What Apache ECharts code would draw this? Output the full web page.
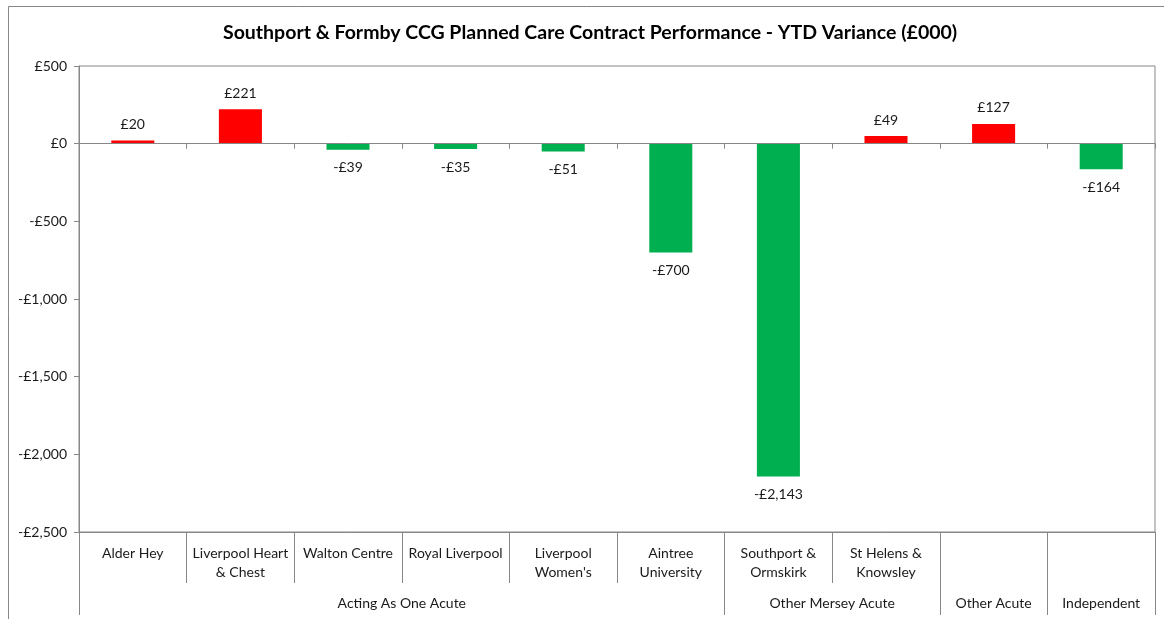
<!DOCTYPE html>
<html>
<head>
<meta charset="utf-8">
<script src="https://cdn.jsdelivr.net/npm/echarts@6/dist/echarts.min.js"></script>
<style>
  html, body { margin: 0; padding: 0; background: #fff; }
  #chart { width: 1164px; height: 619px; }
</style>
</head>
<body>
<div id="chart"></div>
<script>
// providers (first level of the axis), '\n' where the label wraps
const providers = [
  'Alder Hey', 'Liverpool Heart\n& Chest', 'Walton Centre', 'Royal Liverpool',
  'Liverpool\nWomen\'s', 'Aintree\nUniversity', 'Southport &\nOrmskirk',
  'St Helens &\nKnowsley', '', ''
];
// YTD variance, £000
const variance = [20, 221, -39, -35, -51, -700, -2143, 49, 127, -164];

// second level: group names, where they sit and where they start/end (in category units)
const groups = ['Acting As One Acute', 'Other Mersey Acute', 'Other Acute', 'Independent'];
const groupCentres = [3, 7, 8.5, 9.5];
const groupEdges = [0, 6, 8, 9, 10];

const yTicks = { min: -2500, max: 500, interval: 500 };

const FONT = 'Lato';
const LINE = '#878787';
const TEXT = '#1a1a1a';

function money(v) {
  const s = '£' + Math.abs(v).toLocaleString('en-GB');
  return v < 0 ? '-' + s : s;
}

const chart = echarts.init(document.getElementById('chart'));

let option;

option = {
  backgroundColor: '#fff',
  textStyle: { fontFamily: FONT },
  title: {
    text: 'Southport & Formby CCG Planned Care Contract Performance - YTD Variance (£000)',
    left: 223,
    top: 23,
    padding: 0,
    textStyle: { fontFamily: FONT, fontSize: 19.5, fontWeight: 'bold', color: '#000' }
  },
  graphic: [{
    type: 'rect',
    shape: { x: 8.5, y: 6.5, width: 1170, height: 630 },
    style: { fill: 'none', stroke: LINE, lineWidth: 1 },
    silent: true
  }],
  grid: {
    left: 79, right: 9, top: 66, bottom: 87,
    show: true, borderColor: LINE, borderWidth: 1, backgroundColor: 'transparent'
  },
  xAxis: [
    {
      // the zero line with its small ticks
      type: 'category',
      data: providers,
      axisLine: { onZero: true, lineStyle: { color: LINE } },
      axisTick: { show: true, length: 5, lineStyle: { color: LINE } },
      axisLabel: { show: false },
      splitLine: { show: false },
      z: 5
    },
    {
      // provider labels at the bottom
      type: 'category',
      data: providers,
      position: 'bottom',
      axisLine: { onZero: false, lineStyle: { color: LINE } },
      axisTick: { show: true, length: 51, lineStyle: { color: LINE } },
      axisLabel: {
        interval: 0, margin: 12, fontSize: 14, lineHeight: 19,
        color: TEXT, verticalAlign: 'top', fontFamily: FONT
      },
      splitLine: { show: false }
    },
    {
      // group labels
      type: 'value',
      min: 0, max: 10,
      position: 'bottom',
      axisLine: { show: false, onZero: false },
      axisTick: {
        show: true, length: 83, customValues: groupEdges,
        lineStyle: { color: LINE }
      },
      axisLabel: {
        customValues: groupCentres,
        margin: 64, fontSize: 14, color: TEXT, fontFamily: FONT,
        formatter: v => groups[groupCentres.indexOf(v)] || ''
      },
      splitLine: { show: false }
    }
  ],
  yAxis: {
    type: 'value',
    min: yTicks.min, max: yTicks.max, interval: yTicks.interval,
    axisLine: { show: true, lineStyle: { color: LINE } },
    axisTick: { show: true, length: 5, lineStyle: { color: LINE } },
    axisLabel: { formatter: money, fontSize: 14, color: TEXT, margin: 12, fontFamily: FONT },
    splitLine: { show: false }
  },
  series: [{
    type: 'bar',
    xAxisIndex: 0,
    barWidth: '40%',
    data: variance.map(v => ({
      value: v,
      itemStyle: { color: v >= 0 ? '#ff0000' : '#00b050' },
      label: { position: v >= 0 ? 'top' : 'bottom', distance: v >= 0 ? 9 : 11 }
    })),
    label: {
      show: true,
      fontSize: 14,
      color: TEXT,
      fontFamily: FONT,
      formatter: p => money(p.value)
    }
  }]
};

option && chart.setOption(option);
</script>
</body>
</html>
